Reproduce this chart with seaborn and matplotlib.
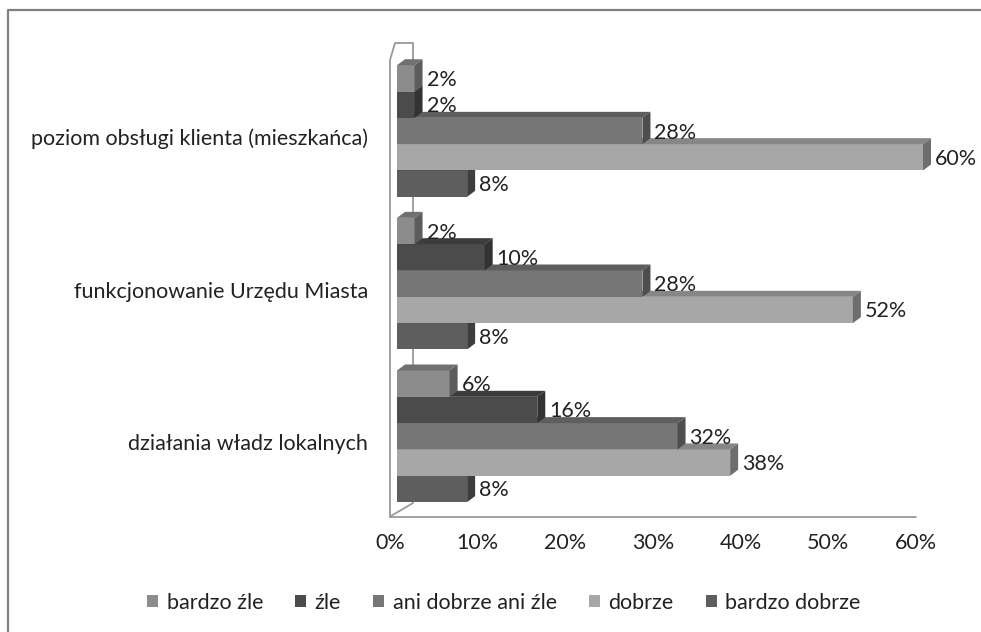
import numpy as np
import pandas as pd
import matplotlib
matplotlib.use("Agg")
import matplotlib.pyplot as plt
import seaborn as sns
from matplotlib.patches import Polygon, Patch
from matplotlib.lines import Line2D
from matplotlib.transforms import ScaledTranslation

# ─── Data ───────────────────────────────────────────────────────────────────
categories = [
    "poziom obsługi klienta (mieszkańca)",
    "funkcjonowanie Urzędu Miasta",
    "działania władz lokalnych",
]
series = ["bardzo źle", "źle", "ani dobrze ani źle", "dobrze", "bardzo dobrze"]
bardzo_zle = [2, 2, 6]
zle = [2, 10, 16]
ani_ani = [28, 28, 32]
dobrze = [60, 52, 38]
bardzo_dobrze = [8, 8, 8]
x_ticks = [0, 10, 20, 30, 40, 50, 60]

# ─── Style ──────────────────────────────────────────────────────────────────
COLORS = ["#8c8c8c", "#4b4b4b", "#767676", "#a7a7a8", "#5e5e5e"]
FRAME = "#9a9a9a"
TEXT = "#222222"
W, H = 981, 632

sns.set_style("white")
plt.rcParams["font.family"] = ["Lato", "DejaVu Sans"]

rows = []
for name, vals in zip(series, [bardzo_zle, zle, ani_ani, dobrze, bardzo_dobrze]):
    for cat, v in zip(categories, vals):
        rows.append({"kategoria": cat, "ocena": name, "procent": v})
df = pd.DataFrame(rows)


def shade(hex_color, f):
    rgb = np.array(matplotlib.colors.to_rgb(hex_color)) * f
    return tuple(rgb)


def fig_xy(pts):
    # image pixel coords (y from top) -> figure fraction
    return [p[0] / W for p in pts], [1 - p[1] / H for p in pts]


fig = plt.figure(figsize=(W / 100, H / 100), dpi=100)
fig.patch.set_facecolor("white")
ax = fig.add_axes([397 / W, 1 - 512.6 / H, 526 / W, (512.6 - 54.7) / H])

sns.barplot(data=df, x="procent", y="kategoria", hue="ocena", order=categories,
            hue_order=series, palette=COLORS, orient="h", width=0.862,
            saturation=1, legend=False, ax=ax)
ax.set_xlim(0, 60)
ax.set_ylim(2.5, -0.5)
for sp in ax.spines.values():
    sp.set_visible(False)
ax.set_xlabel("")
ax.set_ylabel("")

# pixel -> data scale for 3D depth
px_x = 526 / 60.0
px_y = (512.6 - 54.7) / 3.0
dxd = 8 / px_x
dyd = 6 / px_y

for i, cont in enumerate(ax.containers):
    col = COLORS[i]
    for p in cont.patches:
        w = p.get_width()
        y0 = p.get_y()
        h = p.get_height()
        z = 10 - (y0 + h / 2)
        p.set_zorder(z)
        p.set_edgecolor("none")
        top = Polygon([(0, y0), (dxd, y0 - dyd), (w + dxd, y0 - dyd), (w, y0)],
                      closed=True, facecolor=shade(col, 0.8), edgecolor="none",
                      zorder=z, clip_on=False)
        side = Polygon([(w, y0), (w + dxd, y0 - dyd), (w + dxd, y0 + h - dyd), (w, y0 + h)],
                       closed=True, facecolor=shade(col, 0.66), edgecolor="none",
                       zorder=z, clip_on=False)
        ax.add_patch(top)
        ax.add_patch(side)
        ax.text(w + (8 + 4) / px_x, y0 + h / 2 + 1.5 / px_y, f"{w:.0f}%",
                ha="left", va="center", fontsize=15.5, color=TEXT, zorder=30,
                clip_on=False)

# ─── Axis labels ────────────────────────────────────────────────────────────
ax.set_xticks(x_ticks, [f"{t}%" for t in x_ticks])
ax.set_yticks(range(len(categories)), categories)
ax.tick_params(axis="x", length=0, pad=15, labelsize=15.5, labelcolor=TEXT)
ax.tick_params(axis="y", length=0, pad=21, labelsize=15.5, labelcolor=TEXT)
for lab in ax.get_xticklabels():
    lab.set_transform(lab.get_transform() + ScaledTranslation(-0.07, 0, fig.dpi_scale_trans))
for lab in ax.get_yticklabels():
    lab.set_transform(lab.get_transform() + ScaledTranslation(0, -0.06, fig.dpi_scale_trans))

# ─── 3D walls / floor ───────────────────────────────────────────────────────
wall = [(390, 517), (390, 60), (395, 43), (413, 43), (413, 503), (391, 516)]
floor = [(390, 517), (916, 517)]
for pts in [wall, floor]:
    xs, ys = fig_xy(pts)
    ax.add_line(Line2D(xs, ys, transform=fig.transFigure, color=FRAME, lw=1.3,
                       zorder=1, clip_on=False))

# outer border (top + left)
xs, ys = fig_xy([(8, H), (8, 10), (W, 10)])
fig.add_artist(Line2D(xs, ys, transform=fig.transFigure, color="#808080", lw=1.6))

# ─── Legend ─────────────────────────────────────────────────────────────────
handles = [Patch(facecolor=c, edgecolor="none") for c in COLORS]
fig.legend(handles, series, loc="center", bbox_to_anchor=(504 / W, 1 - 603 / H),
           ncol=5, frameon=False, fontsize=15.5, handlelength=0.5, handleheight=0.5,
           handletextpad=0.4, columnspacing=1.5, labelcolor=TEXT)

fig.savefig("out.png", dpi=100, facecolor="white")
plt.close()
